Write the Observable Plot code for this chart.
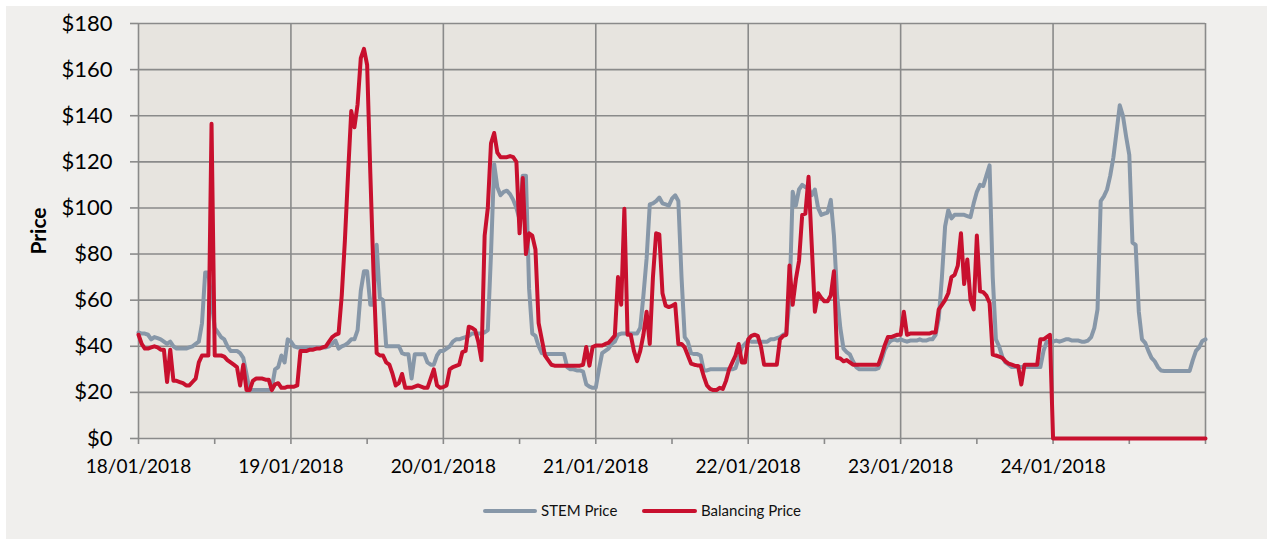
<!DOCTYPE html>
<html>
<head>
<meta charset="utf-8">
<script src="https://cdn.jsdelivr.net/npm/d3@7"></script>
<script src="https://cdn.jsdelivr.net/npm/@observablehq/plot@0.6"></script>
<style>
  html, body { margin: 0; padding: 0; background: #ffffff; width: 1267px; height: 539px; overflow: hidden; }
  #panel { position: absolute; left: 6px; top: 6px; right: 0; bottom: 0; background: #f0efed; }
  #chart { position: absolute; left: 0; top: 0; }
  #ytitle { position: absolute; left: 37px; top: 231px; transform: translate(-50%, -50%) rotate(-90deg);
            font: bold 21px Lato, sans-serif; color: #000; white-space: nowrap; }
  .sw { position: absolute; height: 4px; border-radius: 2px; top: 509px; }
  .lt { position: absolute; top: 501px; font: 15px Lato, sans-serif; color: #111; white-space: nowrap; }
</style>
</head>
<body>
<div id="panel"></div>
<div id="chart"></div>
<div id="ytitle">Price</div>
<div class="sw" style="left:483px;width:54px;background:#8797a8"></div>
<div class="lt" style="left:541px">STEM Price</div>
<div class="sw" style="left:642px;width:55px;background:#c8102e"></div>
<div class="lt" style="left:701px">Balancing Price</div>
<script>
// Day start dates (half-hourly values, 48 per day; last day includes 25/01 00:00)
const dayDates = ["2018-01-18", "2018-01-19", "2018-01-20", "2018-01-21", "2018-01-22", "2018-01-23", "2018-01-24"];
const yTicks = [0, 20, 40, 60, 80, 100, 120, 140, 160, 180];
const seriesNames = ["STEM Price", "Balancing Price"];

const stem18 = [46,45.5,45.5,45,43,44,43.5,43,42,41,
  42,40,39,39,39,39,39.5,40,41,42,
  50,72,72,60,48,46,44,43,40,38,
  38,38,37,35,28,21,21,21,21,21,
  21,21,22,30,31,36,33,43];
const bal18 = [45,41,39,39,39.5,40,39.5,38.5,38.5,24.5,
  38.5,25,25,24.5,24,23,23,24.5,26,33,
  36,36,36,136.5,36,36,36,35.5,34,33,
  32,31,23,32,21,21,25,26,26,26,
  25.5,25.5,21,23.5,24,22,22,22.5];

const stem19 = [42,40,39.5,39.5,39.5,39.5,39.5,39.5,39.5,39.5,
  39.5,39.5,40,41,42.5,39,40,40.5,41.5,43,
  43,47,64,72.5,72.5,58,58,84,61,60,
  40,40,40,40,40,37,36.5,36.5,26,36.5,
  36.5,36.5,36.5,33,32,32,36,38];
const bal19 = [22.5,22.5,23,38,38,38,38.5,38.5,39,39,
  39.5,40,42,44,45,45.5,62,86,115,142,
  135,145,165,169,162,115,72,37,36,36,
  33,32,28,23,24,28,22,22,22,22.5,
  23,22.5,22,22,26,30,23,22];

const stem20 = [38,39,40,42,43,43,43.5,44,44.5,45.5,
  45.5,45.5,45.5,46,47,80,119,109,105.5,107,
  107.5,106,103.5,100,95,114,114,65,45.5,44.5,
  40,37,36.6,36.6,36.6,36.6,36.6,36.6,36.6,31,
  30,30,29.5,29.5,29,23.5,22.5,22];
const bal20 = [22.3,23,30,31,31.5,32,37.5,38,48.5,48,
  47,42,34,88,100,128,132.5,124,122,122,
  122,122.5,122,120,89,113,80,89,88,82,
  50,43,36,34,32,31.6,31.6,31.6,31.6,31.6,
  31.6,31.6,31.6,31.6,32,39.7,31.6,39.7];

const stem21 = [22,30,37,38,39,41,42,45,45.5,45.5,
  45.5,45.5,45.5,45.5,48,62,78,101.5,102,103,
  104.5,102,101.5,101,104,105.5,103,70,44,42,
  37,36.6,36.6,36,29.5,29.5,30,30,30,30,
  30,30,30,30,30.5,35,39.5,41];
const bal21 = [40.3,40.3,40.3,41,41.5,43,44.7,70,58,99.6,
  45,45,38,33.5,38,45,55,41,70,89,
  88.5,63,57.6,57,57.5,58.4,41,41,39.5,36,
  32.5,32,31.7,31.7,27,23,21.5,21,21,22,
  21.5,25,30,33,36,41,33,33];

const stem22 = [42.5,42,42,42,42,42,42,43,43,43.5,
  44,45,45.5,60,107,101,108,110,109,108.5,
  105.5,108,100,97,97.5,98,103.5,88,62,48,
  39,37.5,36.5,33.5,31,30,30,30,30,30,
  30,30.5,34,38.5,41,42.5,43,42.5];
const bal22 = [43,44.5,45,44.5,40,32,32,32,32,32,
  43,44.5,45,75,58,69,77,97,97.5,113.5,
  84,55,63,61,59.5,59.5,62,72.5,35,34.7,
  33.5,34,33,32,32,32,32,32,32,32,
  32,32,36,40.5,44,44,44.5,45];

const stem23 = [43,42.5,42,42.5,42.5,42.5,43,42.5,42.5,43,
  43,45,52,70,92,99,95.5,97,97,97,
  97,96.5,96,102,107,110,109.5,114,118.5,70,
  43,40,35.5,33,32,31,31,31,31,31,
  31,31,31,31,31,38,42,42];
const bal23 = [45,55,45,45.5,45.5,45.5,45.5,45.5,45.5,45.5,
  46,46,56,58,60,63,70,71,75,89,
  67,77.6,60,56,88,63.8,63.5,62,58.8,36.4,
  36,35.5,35,33.5,32.5,32,31.5,31.5,23.4,32,
  32,32,32,32,43,43,44,45];

const stem24 = [42,42.5,42,42.5,43,43,42.5,42.5,42.5,42,
  42,42.5,44,48,56,103,105,108,114,122,
  133,144.5,140,131,123,85,84,55,43,41.5,
  38,35,33.5,31,29.5,29.3,29.3,29.3,29.3,29.3,
  29.3,29.3,29.3,29.3,34,38,39.5,42.3,43];
const bal24 = [0,0,0,0,0,0,0,0,0,0,
  0,0,0,0,0,0,0,0,0,0,
  0,0,0,0,0,0,0,0,0,0,
  0,0,0,0,0,0,0,0,0,0,
  0,0,0,0,0,0,0,0,0];

const stemDays = [stem18, stem19, stem20, stem21, stem22, stem23, stem24];
const balDays = [bal18, bal19, bal20, bal21, bal22, bal23, bal24];

function toRows(days) {
  const rows = [];
  days.forEach((arr, d) => {
    const base = new Date(dayDates[d] + "T00:00:00Z").getTime();
    arr.forEach((v, i) => rows.push({t: new Date(base + i * 30 * 60 * 1000), v}));
  });
  return rows;
}
const stemRows = toRows(stemDays);
const balRows = toRows(balDays);

const start = new Date("2018-01-18T00:00:00Z");
const end = new Date("2018-01-25T00:00:00Z");
const dayTicks = d3.utcDay.range(start, d3.utcDay.offset(end, 1));
const halfDayTicks = d3.utcHour.every(12).range(start, d3.utcHour.offset(end, 1));
const fmt = d3.utcFormat("%d/%m/%Y");

const chart = Plot.plot({
  width: 1267,
  height: 480,
  marginLeft: 138,
  marginRight: 62,
  marginTop: 23,
  marginBottom: 42,
  style: {background: "transparent", fontFamily: "Lato, sans-serif", overflow: "visible"},
  x: {type: "utc", domain: [start, end]},
  y: {domain: [0, 180]},
  marks: [
    Plot.frame({fill: "#e7e4df", stroke: "none"}),
    Plot.gridY(yTicks, {stroke: "#8a8a8a", strokeOpacity: 1, strokeWidth: 1.6}),
    Plot.gridX(dayTicks, {stroke: "#8a8a8a", strokeOpacity: 1, strokeWidth: 1.6}),
    Plot.axisY(yTicks, {tickSize: 8, tickPadding: 18, stroke: "#8a8a8a", strokeWidth: 1.6, fill: "#000",
      fontSize: 22, tickFormat: d => "$" + d, label: null}),
    Plot.axisX(halfDayTicks, {tickSize: 6, tickPadding: 15, stroke: "#8a8a8a", strokeWidth: 1.6, fill: "#000",
      fontSize: 19, label: null,
      tickFormat: d => (d.getUTCHours() === 0 && d < end) ? fmt(d) : ""}),
    Plot.line(stemRows, {x: "t", y: "v", stroke: "#8797a8", strokeWidth: 4, strokeLinejoin: "round", strokeLinecap: "round"}),
    Plot.line(balRows, {x: "t", y: "v", stroke: "#c8102e", strokeWidth: 4, strokeLinejoin: "round", strokeLinecap: "round"})
  ]
});
document.getElementById("chart").appendChild(chart);
</script>
</body>
</html>
